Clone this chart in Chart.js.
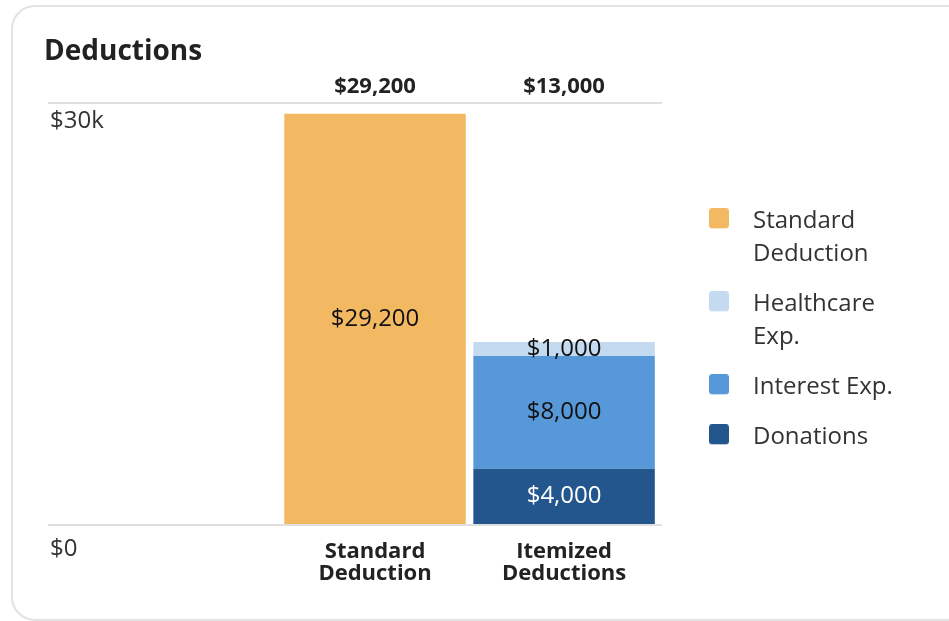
<!DOCTYPE html>
<html lang="en">
<head>
<meta charset="utf-8">
<title>Deductions</title>
<script src="https://cdn.jsdelivr.net/npm/chart.js@4.4.1/dist/chart.umd.min.js"></script>
<style>
  html, body { margin: 0; padding: 0; background: #ffffff; }
  body { position: relative; width: 949px; height: 621px; overflow: hidden; }
  .card {
    position: absolute; left: 11px; top: 5px; width: 970px; height: 616px;
    border: 2px solid #e2e2e2; border-radius: 24px; box-sizing: border-box;
  }
  .chart-box { position: absolute; left: 0; top: 0; width: 949px; height: 621px; }
</style>
</head>
<body>
<div class="card"></div>
<div class="chart-box"><canvas id="deductionsChart"></canvas></div>
<script>
// categories on the x axis (already split into two lines)
const categories = [['Standard', 'Deduction'], ['Itemized', 'Deductions']];

// series values per category
const standardDeduction = [29200, null];
const healthcareExp = [null, 1000];
const interestExp = [null, 8000];
const donations = [null, 4000];

// y axis ticks
const yTicks = [0, 30000];
const yTickLabels = ['$0', '$30k'];

// stack order, bottom to top
const seriesNames = ['Donations', 'Interest Exp.', 'Healthcare Exp.', 'Standard Deduction'];
const seriesValues = [donations, interestExp, healthcareExp, standardDeduction];
const seriesColors = ['#22568c', '#5698d8', '#c3daf1', '#f3b862'];
const valueColors = ['#ffffff', '#111111', '#111111', '#111111'];

// legend lists top of stack first, names wrapped like the original
const legendOrder = [3, 2, 1, 0];
const legendLines = [['Donations'], ['Interest Exp.'], ['Healthcare', 'Exp.'], ['Standard', 'Deduction']];

function formatDollar(v) {
    return '$' + v.toLocaleString('en-US');
}

// total of every column, shown above the plot
const totals = categories.map((c, i) => seriesValues.reduce((sum, arr) => sum + (arr[i] || 0), 0));

// legend swatch: rounded square, with room on its left and below
function legendSwatch(color) {
    const c = document.createElement('canvas');
    c.width = 62;
    c.height = 26;
    const g = c.getContext('2d');
    g.fillStyle = color;
    g.beginPath();
    g.roundRect(30, 0, 20, 20, 3);
    g.fill();
    return c;
}
const swatches = seriesColors.map(legendSwatch);

// value text in the middle of every segment
const valueLabels = {
    id: 'valueLabels',
    afterDatasetsDraw(chart) {
        const ctx = chart.ctx;
        ctx.save();
        ctx.font = '24px "Open Sans"';
        ctx.textAlign = 'center';
        ctx.textBaseline = 'middle';
        chart.data.datasets.forEach((ds, di) => {
            chart.getDatasetMeta(di).data.forEach((bar, i) => {
                const v = ds.data[i].y;
                if (!v) return;
                const p = bar.getCenterPoint();
                ctx.fillStyle = valueColors[di];
                ctx.fillText(formatDollar(v), p.x, p.y);
            });
        });
        ctx.restore();
    }
};

const xMin = -0.73;
const xMax = 2.518;
const categoryTicks = (axis) => { axis.ticks = categories.map((c, i) => ({ value: i + 1 })); };

Chart.defaults.font.family = '"Open Sans", sans-serif';
Chart.defaults.color = '#333333';

new Chart(document.getElementById('deductionsChart'), {
    type: 'bar',
    data: {
        datasets: seriesNames.map((name, s) => ({
            label: name,
            data: categories.map((c, i) => ({ x: i + 1, y: seriesValues[s][i] })),
            backgroundColor: seriesColors[s],
            barPercentage: 0.96,
            categoryPercentage: 1
        }))
    },
    options: {
        responsive: true,
        maintainAspectRatio: false,
        animation: false,
        layout: { padding: { top: 35.4, left: 44, right: 53, bottom: 20 } },
        scales: {
            x: {
                type: 'linear',
                position: 'bottom',
                offset: false,
                min: xMin,
                max: xMax,
                stacked: true,
                afterBuildTicks: categoryTicks,
                grid: { display: false, drawTicks: false },
                border: { display: false },
                ticks: {
                    callback: (v) => categories[v - 1],
                    color: '#222222',
                    font: { size: 22, weight: 'bold', lineHeight: '22px' },
                    padding: 16,
                    maxRotation: 0
                }
            },
            xTotals: {
                type: 'linear',
                position: 'top',
                offset: false,
                min: xMin,
                max: xMax,
                afterBuildTicks: categoryTicks,
                grid: { display: false, drawTicks: false },
                border: { display: false },
                ticks: {
                    callback: (v) => formatDollar(totals[v - 1]),
                    color: '#222222',
                    font: { size: 22, weight: 'bold' },
                    padding: 2.5,
                    maxRotation: 0
                }
            },
            y: {
                stacked: true,
                min: 0,
                max: 30000,
                afterBuildTicks: (axis) => { axis.ticks = yTicks.map((v) => ({ value: v })); },
                grid: { color: '#e0e0e0', lineWidth: 2, drawTicks: false },
                border: { display: false },
                ticks: {
                    mirror: true,
                    padding: 2,
                    labelOffset: 19,
                    color: '#333333',
                    font: { size: 24, lineHeight: '11px' },
                    callback: (v) => {
                        const label = yTickLabels[yTicks.indexOf(v)];
                        return v === 0 ? ['', label] : label;
                    }
                }
            }
        },
        plugins: {
            title: {
                display: true,
                text: 'Deductions',
                align: 'start',
                color: '#222222',
                font: { size: 28, weight: 'bold', lineHeight: 1.2 },
                padding: { top: 0, bottom: 2.1 }
            },
            legend: {
                position: 'right',
                align: 'start',
                maxWidth: 234,
                title: { display: true, text: '', padding: { top: 142.5, bottom: 0 } },
                labels: {
                    usePointStyle: true,
                    pointStyleWidth: 62,
                    padding: 17,
                    color: '#333333',
                    font: { size: 24, lineHeight: '33px' },
                    generateLabels: () => legendOrder.map((s) => ({
                        text: legendLines[s],
                        pointStyle: swatches[s],
                        fillStyle: seriesColors[s],
                        strokeStyle: seriesColors[s],
                        lineWidth: 0,
                        hidden: false,
                        datasetIndex: s
                    }))
                }
            },
            tooltip: { enabled: false }
        }
    },
    plugins: [valueLabels]
});
</script>
</body>
</html>
